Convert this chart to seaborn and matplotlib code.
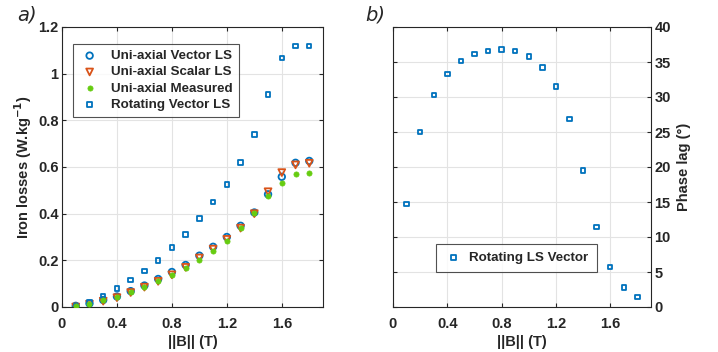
import numpy as np
import pandas as pd
import matplotlib
matplotlib.use("Agg")
import matplotlib.pyplot as plt
import seaborn as sns

# ------- DATA ---------
b_field = [0.1, 0.2, 0.3, 0.4, 0.5, 0.6, 0.7, 0.8, 0.9, 1.0, 1.1, 1.2, 1.3, 1.4, 1.5, 1.6, 1.7, 1.8]
uni_vector_ls = [0.005, 0.015, 0.03, 0.045, 0.068, 0.092, 0.12, 0.15, 0.18, 0.22, 0.258, 0.30,
                 0.348, 0.405, 0.483, 0.558, 0.618, 0.626]
uni_scalar_ls = [0.0, 0.012, 0.025, 0.04, 0.062, 0.085, 0.11, 0.138, 0.17, 0.21, 0.248, 0.29,
                 0.338, 0.40, 0.494, 0.576, 0.609, 0.616]
uni_measured = [0.005, 0.012, 0.028, 0.045, 0.065, 0.087, 0.11, 0.138, 0.167, 0.20, 0.24, 0.283,
                0.34, 0.405, 0.477, 0.53, 0.57, 0.576]
rot_vector_ls = [0.005, 0.02, 0.048, 0.08, 0.115, 0.155, 0.20, 0.255, 0.31, 0.38, 0.45, 0.525,
                 0.62, 0.74, 0.91, 1.066, 1.119, 1.119]
phase_lag = [14.7, 25.0, 30.3, 33.3, 35.1, 36.1, 36.6, 36.8, 36.6, 35.8, 34.2, 31.5,
             26.9, 19.5, 11.4, 5.7, 2.8, 1.4]

x_ticks = [0, 0.4, 0.8, 1.2, 1.6]
x_tick_labels = ["0", "0.4", "0.8", "1.2", "1.6"]
loss_ticks = [0, 0.2, 0.4, 0.6, 0.8, 1.0, 1.2]
loss_tick_labels = ["0", "0.2", "0.4", "0.6", "0.8", "1", "1.2"]
lag_ticks = [0, 5, 10, 15, 20, 25, 30, 35, 40]

BLUE = "#0072BD"
ORANGE = "#D95319"
GREEN = "#66CC11"

# ------- STYLE ---------
sns.set_style("white")
plt.rcParams["font.family"] = ["Liberation Sans", "DejaVu Sans"]
plt.rcParams["font.size"] = 10

fig = plt.figure(figsize=(7.18, 3.52), dpi=100)
ax1 = fig.add_axes([62 / 718, 45 / 352, 261 / 718, 280 / 352])
ax2 = fig.add_axes([393 / 718, 45 / 352, 258 / 718, 280 / 352])

# ------- PANEL a) ---------
sns.scatterplot(x=b_field, y=uni_vector_ls, ax=ax1, marker="o", s=22, facecolor="none",
                edgecolor=BLUE, linewidth=1.3, label="Uni-axial Vector LS", zorder=3)
sns.scatterplot(x=b_field, y=uni_scalar_ls, ax=ax1, marker="v", s=24, facecolor="none",
                edgecolor=ORANGE, linewidth=1.3, label="Uni-axial Scalar LS", zorder=3)
sns.scatterplot(x=b_field, y=uni_measured, ax=ax1, marker="o", s=14, color=GREEN,
                edgecolor=GREEN, linewidth=0.5, label="Uni-axial Measured", zorder=4)
sns.scatterplot(x=b_field, y=rot_vector_ls, ax=ax1, marker="s", s=10, facecolor="none",
                edgecolor=BLUE, linewidth=1.3, label="Rotating Vector LS", zorder=3)

ax1.set_xlim(0, 1.9)
ax1.set_ylim(0, 1.2)
ax1.set_xticks(x_ticks)
ax1.set_xticklabels(x_tick_labels)
ax1.set_yticks(loss_ticks)
ax1.set_yticklabels(loss_tick_labels)
ax1.set_xlabel("||B|| (T)", fontsize=10.5, fontweight="bold", labelpad=3)
ax1.set_ylabel("Iron losses (W.kg$^{\\mathbf{-1}}$)", fontsize=10.5, fontweight="bold", labelpad=3)
leg1 = ax1.legend(loc="upper left", bbox_to_anchor=(0.042, 0.94), borderaxespad=0, fontsize=9.6,
                  frameon=True, fancybox=False, edgecolor="#262626", handletextpad=0.8,
                  borderpad=0.45, labelspacing=0.3, handlelength=1.6)
leg1.get_frame().set_linewidth(0.8)
for t in leg1.get_texts():
    t.set_fontweight("bold")
ax1.text(-0.172, 1.043, "a)", transform=ax1.transAxes, fontsize=14, style="italic",
         family="DejaVu Sans", va="center", ha="left")

# ------- PANEL b) ---------
sns.scatterplot(x=b_field, y=phase_lag, ax=ax2, marker="s", s=10, facecolor="none",
                edgecolor=BLUE, linewidth=1.3, label="Rotating LS Vector", zorder=3)
ax2.set_xlim(0, 1.9)
ax2.set_ylim(0, 40)
ax2.set_xticks(x_ticks)
ax2.set_xticklabels(x_tick_labels)
ax2.set_yticks(lag_ticks)
ax2.yaxis.tick_right()
ax2.yaxis.set_label_position("right")
ax2.set_xlabel("||B|| (T)", fontsize=10.5, fontweight="bold", labelpad=3)
ax2.set_ylabel("Phase lag (°)", fontsize=10.5, fontweight="bold", labelpad=4)
leg2 = ax2.legend(loc="lower left", bbox_to_anchor=(0.167, 0.125), borderaxespad=0, fontsize=9.6,
                  frameon=True, fancybox=False, edgecolor="#262626", handletextpad=0.5,
                  borderpad=0.6, handlelength=1.4)
leg2.get_frame().set_linewidth(0.8)
for t in leg2.get_texts():
    t.set_fontweight("bold")
ax2.text(-0.108, 1.043, "b)", transform=ax2.transAxes, fontsize=14, style="italic",
         family="DejaVu Sans", va="center", ha="left")

for ax in (ax1, ax2):
    ax.grid(True, color="#e3e3e3", linewidth=0.8, zorder=0)
    ax.set_axisbelow(True)
    for sp in ax.spines.values():
        sp.set_color("#262626")
        sp.set_linewidth(0.8)
    ax.tick_params(direction="in", length=3, width=0.8, colors="#262626", labelsize=10.5,
                   top=True, bottom=True, left=True, right=True)
    ax.tick_params(axis="x", pad=7)
    ax.tick_params(axis="y", pad=2.5)
    for lab in ax.get_xticklabels() + ax.get_yticklabels():
        lab.set_fontweight("bold")

fig.savefig("out.png", dpi=100)
